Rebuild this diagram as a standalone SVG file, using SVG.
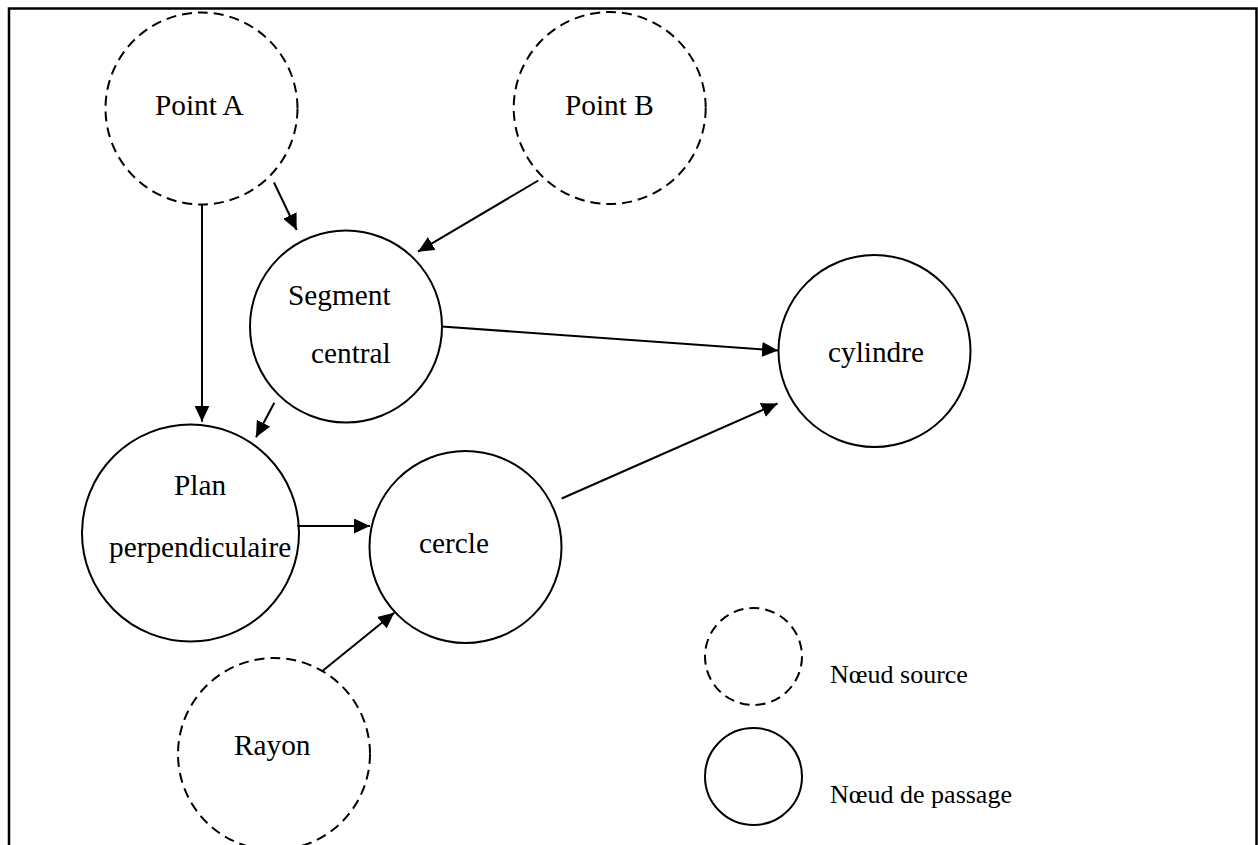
<svg xmlns="http://www.w3.org/2000/svg" width="1258" height="845" viewBox="0 0 1258 845">
<style>
.src{fill:none;stroke:#000;stroke-width:2;stroke-dasharray:10 6}
.pas{fill:none;stroke:#000;stroke-width:2}
.lbl{font-family:"Liberation Serif","Times New Roman",serif;font-size:29.3px;fill:#000}
.leg{font-family:"Liberation Serif","Times New Roman",serif;font-size:26px;fill:#000}
.edge{fill:none;stroke:#000;stroke-width:2;marker-end:url(#ah)}
</style>
<defs>
<marker id="ah" markerUnits="userSpaceOnUse" markerWidth="17" markerHeight="15" refX="16" refY="7.5" orient="auto">
<path d="M0,0 L16,7.5 L0,15 z" fill="#000"/>
</marker>
</defs>
<rect width="1258" height="845" fill="#fff"/>
<path d="M9,845 V8.5 H1256.5 V845" fill="none" stroke="#000" stroke-width="2.5"/>
<g id="connectors">
<line class="edge" x1="274" y1="182.5" x2="296.7" y2="230"/>
<line class="edge" x1="202" y1="205" x2="202" y2="421.7"/>
<line class="edge" x1="538.3" y1="180.5" x2="418" y2="251.7"/>
<line class="edge" x1="441.7" y1="326.5" x2="778" y2="350.5"/>
<line class="edge" x1="274.3" y1="402.7" x2="256" y2="437.3"/>
<line class="edge" x1="297.3" y1="526" x2="370" y2="526"/>
<line class="edge" x1="322.7" y1="670.7" x2="394.3" y2="612.7"/>
<line class="edge" x1="561.7" y1="498.5" x2="777.5" y2="403.5"/>
</g>
<g id="pointA">
<circle class="src" cx="201.5" cy="108.5" r="96"/>
<text class="lbl" x="155" y="115">Point A</text>
</g>
<g id="pointB">
<circle class="src" cx="609.7" cy="108" r="96"/>
<text class="lbl" x="565" y="115">Point B</text>
</g>
<g id="segment">
<circle class="pas" cx="346" cy="326.5" r="96"/>
<text class="lbl" x="288" y="305">Segment</text>
<text class="lbl" x="311" y="363">central</text>
</g>
<g id="cylindre">
<circle class="pas" cx="874.5" cy="351" r="96"/>
<text class="lbl" x="828" y="361.5">cylindre</text>
</g>
<g id="plan">
<circle class="pas" cx="190.5" cy="533" r="108.5"/>
<text class="lbl" x="174" y="495">Plan</text>
<text class="lbl" x="109" y="556.5">perpendiculaire</text>
</g>
<g id="cercle">
<circle class="pas" cx="465.5" cy="547" r="96"/>
<text class="lbl" x="419" y="553">cercle</text>
</g>
<g id="rayon">
<circle class="src" cx="274" cy="754" r="96"/>
<text class="lbl" x="234" y="755">Rayon</text>
</g>
<g id="legend-source">
<circle class="src" cx="753.5" cy="656.5" r="48.5"/>
<text class="leg" x="830" y="683">Nœud source</text>
</g>
<g id="legend-passage">
<circle class="pas" cx="753.5" cy="776.5" r="48.5"/>
<text class="leg" x="830" y="803">Nœud de passage</text>
</g>
</svg>
